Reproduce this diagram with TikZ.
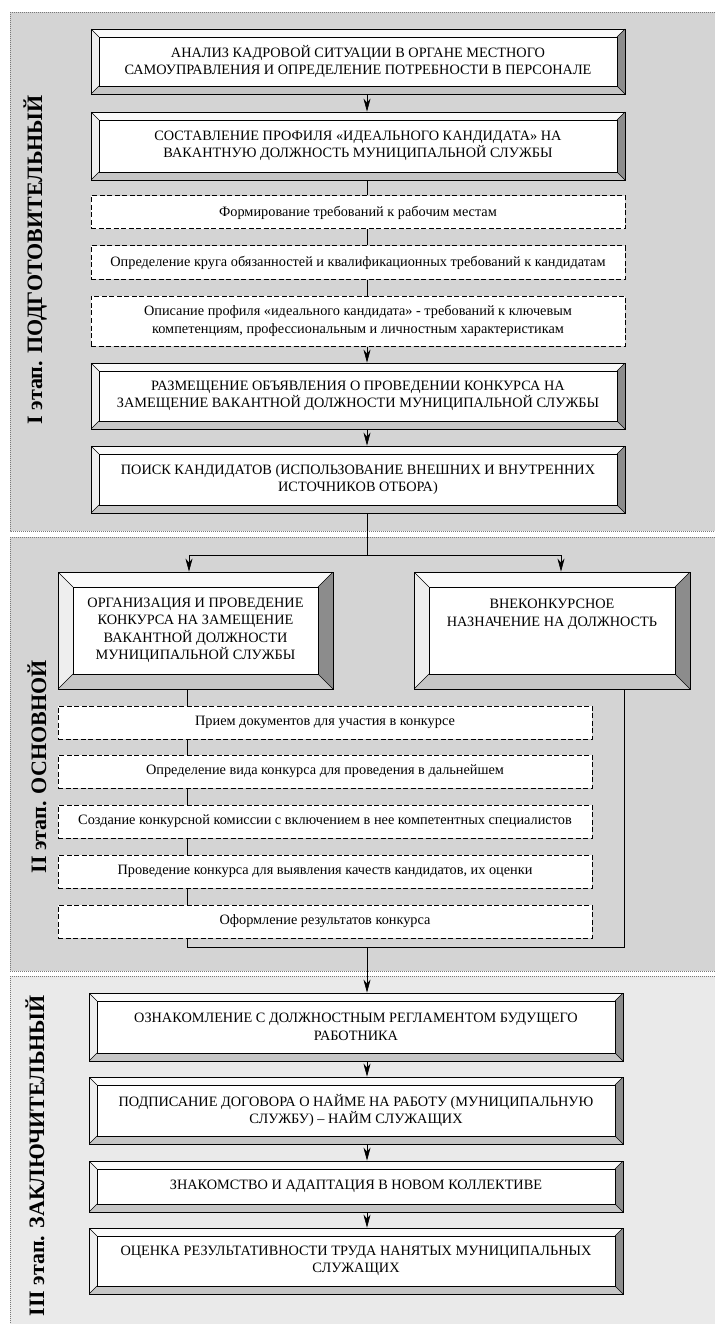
\documentclass[tikz,border=0pt]{standalone}
\usepackage{fontspec}
\setmainfont{Liberation Serif}
\usetikzlibrary{arrows.meta,calc}

\definecolor{panelA}{RGB}{212,212,212}
\definecolor{panelB}{RGB}{234,234,234}
\definecolor{panelline}{RGB}{120,120,120}
\definecolor{bevlight}{RGB}{250,250,250}
\definecolor{bevleft}{RGB}{238,238,238}
\definecolor{bevmid}{RGB}{198,198,198}
\definecolor{bevdark}{RGB}{140,140,140}

\newcommand\capsfont{\fontsize{14.3}{17.5}\selectfont}
\newcommand\smallfont{\fontsize{14.3}{17.5}\selectfont}
\newcommand\stagefont{\bfseries\fontsize{22}{22}\selectfont}

\tikzset{
  bw/.code={\def\bevw{#1}},
  bw=8,
  bevbox/.style={draw=black, line width=0.8pt, fill=white, inner sep=0pt,
    align=center, font=\capsfont,
    path picture={
      \path (path picture bounding box.north west) coordinate (pNW)
            (path picture bounding box.south east) coordinate (pSE);
      \path (pNW -| pSE) coordinate (pNE) (pNW |- pSE) coordinate (pSW);
      \path ([shift={(\bevw pt,-\bevw pt)}]pNW) coordinate (qNW)
            ([shift={(-\bevw pt,\bevw pt)}]pSE) coordinate (qSE);
      \path (qNW -| qSE) coordinate (qNE) (qNW |- qSE) coordinate (qSW);
      \fill[bevlight] (pNW) -- (pNE) -- (qNE) -- (qNW) -- cycle;
      \fill[bevleft] (pNW) -- (qNW) -- (qSW) -- (pSW) -- cycle;
      \fill[bevdark] (pNE) -- (pSE) -- (qSE) -- (qNE) -- cycle;
      \fill[bevmid] (pSW) -- (qSW) -- (qSE) -- (pSE) -- cycle;
      \draw[line width=0.5pt] (pNW) -- (qNW) (pNE) -- (qNE)
            (pSE) -- (qSE) (pSW) -- (qSW);
      \draw[line width=0.9pt, fill=white] (qNW) rectangle (qSE);
    }},
  dbox/.style={draw=black, line width=1pt, dash pattern=on 5pt off 2.5pt,
    fill=white, inner sep=0pt, align=center, font=\smallfont},
  conn/.style={draw=black, line width=0.6pt},
  arr/.style={conn, -{Stealth[length=13pt, width=7pt, inset=4pt]}},
  stage/.style={rotate=90, font=\stagefont, inner sep=0pt},
  panel/.style={draw=panelline, line width=0.8pt, dash pattern=on 1pt off 1pt},
}

\newcommand\bbox[7][]{% name x1 y1 x2 y2 text
  \node[bevbox,#1, minimum width={#5-#3}, minimum height={#6-#4}]
    (#2) at ({(#3+#5)/2},{(#4+#6)/2}) {#7};}
\newcommand\dshbox[6]{%
  \node[dbox, minimum width={#4-#2}, minimum height={#5-#3}]
    (#1) at ({(#2+#4)/2},{(#3+#5)/2}) {#6};}

\begin{document}
\begin{tikzpicture}[x=1pt, y=-1pt]
\useasboundingbox (0,0) rectangle (715,1324);
\fill[white] (0,0) rectangle (715,1324);

% panels
\fill[panelA] (10,12) rectangle (715,531);
\draw[panel] (10,12) -- (715,12) (10,12) -- (10,531) -- (715,531);
\fill[panelA] (10,537) rectangle (715,971);
\draw[panel] (10,537) -- (715,537) (10,537) -- (10,971) -- (715,971);
\fill[panelB] (10,976) rectangle (715,1324);
\draw[panel] (10,976) -- (715,976) (10,976) -- (10,1324);

% stage labels
\node[stage] (s1) at (35,260) {I этап. ПОДГОТОВИТЕЛЬНЫЙ};
\node[stage] (s2) at (37,767) {II этап. ОСНОВНОЙ};
\node[stage] (s3) at (35,1156) {III этап. ЗАКЛЮЧИТЕЛЬНЫЙ};

% stage I
\bbox{b1}{91}{29}{625}{94}{АНАЛИЗ КАДРОВОЙ СИТУАЦИИ В ОРГАНЕ МЕСТНОГО\\САМОУПРАВЛЕНИЯ И ОПРЕДЕЛЕНИЕ ПОТРЕБНОСТИ В ПЕРСОНАЛЕ}
\bbox{b2}{91}{112}{625}{180}{СОСТАВЛЕНИЕ ПРОФИЛЯ «ИДЕАЛЬНОГО КАНДИДАТА» НА\\ВАКАНТНУЮ ДОЛЖНОСТЬ МУНИЦИПАЛЬНОЙ СЛУЖБЫ}
\dshbox{a1}{91}{196}{625}{229}{Формирование требований к рабочим местам}
\dshbox{a2}{91}{246}{625}{279}{Определение круга обязанностей и квалификационных требований к кандидатам}
\dshbox{a3}{91}{296}{625}{346}{Описание профиля «идеального кандидата» - требований к ключевым\\компетенциям, профессиональным и личностным характеристикам}
\bbox{b3}{91}{363}{625}{429}{РАЗМЕЩЕНИЕ ОБЪЯВЛЕНИЯ О ПРОВЕДЕНИИ КОНКУРСА НА\\ЗАМЕЩЕНИЕ ВАКАНТНОЙ ДОЛЖНОСТИ МУНИЦИПАЛЬНОЙ СЛУЖБЫ}
\bbox{b4}{91}{446}{625}{513}{ПОИСК КАНДИДАТОВ (ИСПОЛЬЗОВАНИЕ ВНЕШНИХ И ВНУТРЕННИХ\\ИСТОЧНИКОВ ОТБОРА)}

% stage II
\bbox[bw=15]{L}{58}{572}{333}{689}{ОРГАНИЗАЦИЯ И ПРОВЕДЕНИЕ\\КОНКУРСА НА ЗАМЕЩЕНИЕ\\ВАКАНТНОЙ ДОЛЖНОСТИ\\МУНИЦИПАЛЬНОЙ СЛУЖБЫ}
\bbox[bw=15]{R}{414}{572}{690}{689}{ВНЕКОНКУРСНОЕ\\НАЗНАЧЕНИЕ НА ДОЛЖНОСТЬ\\ \\ }
\dshbox{d1}{58}{706}{592}{739}{Прием документов для участия в конкурсе}
\dshbox{d2}{58}{755}{592}{788}{Определение вида конкурса для проведения в дальнейшем}
\dshbox{d3}{58}{805}{592}{838}{Создание конкурсной комиссии с включением в нее компетентных специалистов}
\dshbox{d4}{58}{855}{592}{888}{Проведение конкурса для выявления качеств кандидатов, их оценки}
\dshbox{d5}{58}{905}{592}{938}{Оформление результатов конкурса}

% stage III
\bbox{c1}{89}{993}{623}{1061}{ОЗНАКОМЛЕНИЕ С ДОЛЖНОСТНЫМ РЕГЛАМЕНТОМ БУДУЩЕГО\\РАБОТНИКА}
\bbox{c2}{89}{1077}{623}{1144}{ПОДПИСАНИЕ ДОГОВОРА О НАЙМЕ НА РАБОТУ (МУНИЦИПАЛЬНУЮ\\СЛУЖБУ) – НАЙМ СЛУЖАЩИХ}
\bbox{c3}{89}{1161}{623}{1212}{ЗНАКОМСТВО И АДАПТАЦИЯ В НОВОМ КОЛЛЕКТИВЕ}
\bbox{c4}{89}{1228}{623}{1294}{ОЦЕНКА РЕЗУЛЬТАТИВНОСТИ ТРУДА НАНЯТЫХ МУНИЦИПАЛЬНЫХ\\СЛУЖАЩИХ}

% connectors
\coordinate (cx) at (367,0);
\coordinate (lx) at (187,0);
\draw[arr] (b1.south -| cx) -- (b2.north -| cx);
\draw[conn] (b2.south -| cx) -- (a1.north -| cx);
\draw[conn] (a1.south -| cx) -- (a2.north -| cx);
\draw[conn] (a2.south -| cx) -- (a3.north -| cx);
\draw[arr] (a3.south -| cx) -- (b3.north -| cx);
\draw[arr] (b3.south -| cx) -- (b4.north -| cx);

\coordinate (sm) at (367,555);
\coordinate (sl) at (189,555);
\coordinate (sr) at (561,555);
\draw[conn] (b4.south -| cx) -- (sm);
\draw[conn] (sl) -- (sr);
\draw[arr] (sl) -- (sl |- L.north);
\draw[arr] (sr) -- (sr |- R.north);

\draw[conn] (L.south -| lx) -- (d1.north -| lx);
\draw[conn] (d1.south -| lx) -- (d2.north -| lx);
\draw[conn] (d2.south -| lx) -- (d3.north -| lx);
\draw[conn] (d3.south -| lx) -- (d4.north -| lx);
\draw[conn] (d4.south -| lx) -- (d5.north -| lx);
\coordinate (jl) at (187,947);
\coordinate (jm) at (367,947);
\coordinate (jr) at (624,947);
\draw[conn] (d5.south -| lx) -- (jl) -- (jr) -- (jr |- R.south);
\draw[arr] (jm) -- (jm |- c1.north);
\draw[arr] (c1.south -| cx) -- (c2.north -| cx);
\draw[arr] (c2.south -| cx) -- (c3.north -| cx);
\draw[arr] (c3.south -| cx) -- (c4.north -| cx);
\end{tikzpicture}
\end{document}
